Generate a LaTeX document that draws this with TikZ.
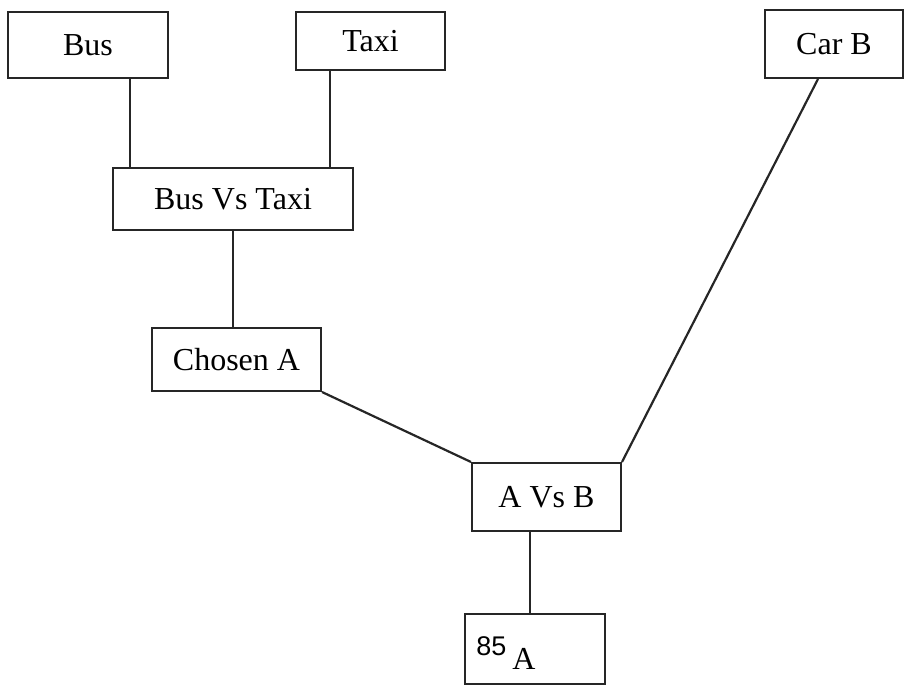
\documentclass[tikz,border=0pt]{standalone}
\usepackage{fontspec}
\setmainfont{Liberation Serif}
\setsansfont{Liberation Sans}
\usetikzlibrary{calc}

\tikzset{
	box/.style={draw=black!85, line width=1pt, rectangle, inner sep=0pt, font=\fontsize{16}{19}\selectfont},
	link/.style={draw=black!85, line width=1.1pt}
}

\begin{document}
\begin{tikzpicture}[x=0.5pt, y=0.5pt]

	\useasboundingbox (0,0) rectangle (905,686);	% page size of the scan

	% the modes and the choices
	\node[box, minimum width=80pt,   minimum height=33pt]   (bus)     at (88,641)    {Bus};
	\node[box, minimum width=74.5pt, minimum height=29pt]   (taxi)    at (370.5,645) {Taxi};
	\node[box, minimum width=69pt,   minimum height=34pt]   (carB)    at (834,642)   {Car B};
	\node[box, minimum width=120pt,  minimum height=31pt]   (busTaxi) at (233,486.5) {Bus Vs Taxi};
	\node[box, minimum width=84.5pt, minimum height=31.5pt] (chosenA) at (236.5,326.5) {Chosen A};
	\node[box, minimum width=74.5pt, minimum height=34pt]   (AvsB)    at (546.5,189) {A Vs B};
	\node[box, minimum width=70pt,   minimum height=35pt]   (result)  at (535,37)
		{\rule{0pt}{20pt}\raisebox{7pt}{\fontsize{13.5}{15}\sffamily 85}\kern3pt A\kern29pt};

	% connectors
	\draw[link] ([xshift=21pt]bus.south) -- ([xshift=21pt]bus.south |- busTaxi.north);
	\draw[link] ([xshift=-20.25pt]taxi.south) -- ([xshift=-20.25pt]taxi.south |- busTaxi.north);
	\draw[link] (busTaxi.south) -- (busTaxi.south |- chosenA.north);
	\draw[link] (chosenA.south east) -- (AvsB.north west);
	\draw[link] ([xshift=-8pt]carB.south) -- (AvsB.north east);
	\draw[link] ([xshift=-8.25pt]AvsB.south) -- ([xshift=-8.25pt]AvsB.south |- result.north);

\end{tikzpicture}
\end{document}
